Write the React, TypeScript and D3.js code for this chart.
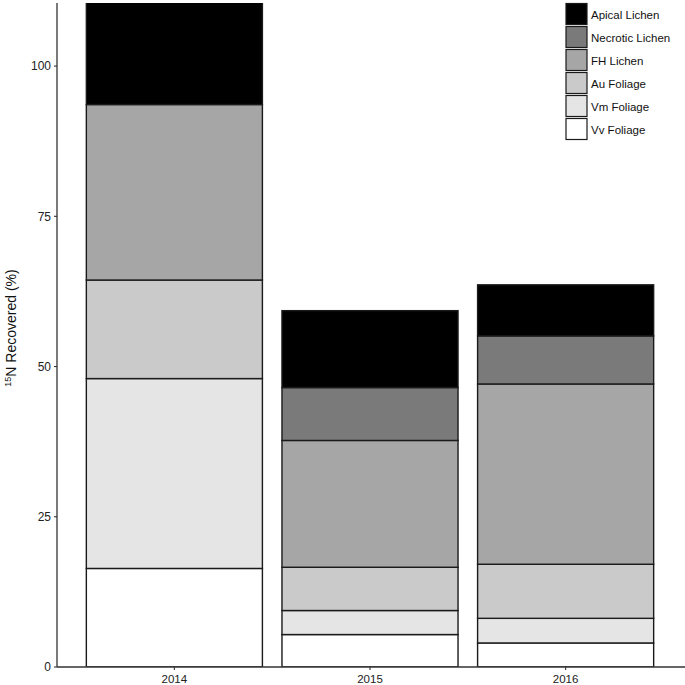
import React from "react";
import * as d3 from "d3";

const years = ["2014", "2015", "2016"];
const components = ["Vv Foliage", "Vm Foliage", "Au Foliage", "FH Lichen", "Necrotic Lichen", "Apical Lichen"];
const vvFoliage = [16.4, 5.4, 4.0];
const vmFoliage = [31.6, 4.0, 4.1];
const auFoliage = [16.4, 7.2, 9.0];
const fhLichen = [29.2, 21.1, 30.0];
const necroticLichen = [0, 8.8, 8.0];
const apicalLichen = [18.4, 12.8, 8.5];
const yTicks = [0, 25, 50, 75, 100];
const fills = ["#ffffff", "#e5e5e5", "#cacaca", "#a6a6a6", "#7a7a7a", "#000000"];

const W = 685, H = 685;
const left = 57, right = 683, top = 3, bottom = 667;

export default function App() {
  const seriesValues = [vvFoliage, vmFoliage, auFoliage, fhLichen, necroticLichen, apicalLichen];
  const rows = years.map((y, i) => {
    const r: any = { year: y };
    components.forEach((c, k) => (r[c] = seriesValues[k][i]));
    return r;
  });
  const stacked = d3.stack().keys(components)(rows);
  const x = d3.scaleBand().domain(years).range([left, right]).paddingInner(0.1).paddingOuter(0.15);
  const y = d3.scaleLinear().domain([0, 110.5]).range([bottom, top]);
  const font = "'Liberation Sans', Arial, sans-serif";
  const legendOrder = [...components].reverse();

  return (
    <svg width={W} height={H} style={{ position: "absolute", left: 0, top: 0, background: "#fff" }} fontFamily={font}>
      <defs>
        <clipPath id="plotclip">
          <rect x={left} y={top} width={right - left + 2} height={bottom - top} />
        </clipPath>
      </defs>
      <g clipPath="url(#plotclip)">
        {stacked.map((s, k) =>
          s.map((d, i) => {
            if (d[1] - d[0] <= 0) return null;
            return (
              <rect
                key={`${k}-${i}`}
                x={x(years[i])!}
                width={x.bandwidth()}
                y={y(d[1])}
                height={y(d[0]) - y(d[1])}
                fill={fills[k]}
                stroke="#1a1a1a"
                strokeWidth={1.4}
              />
            );
          })
        )}
      </g>
      {/* axes */}
      <line x1={left} x2={left} y1={top} y2={bottom} stroke="#333" strokeWidth={1.3} />
      <line x1={left} x2={W} y1={bottom} y2={bottom} stroke="#333" strokeWidth={1.3} />
      {yTicks.map((t) => (
        <g key={t}>
          <line x1={left - 3} x2={left} y1={y(t)} y2={y(t)} stroke="#333" strokeWidth={1.1} />
          <text x={left - 6} y={y(t)} dy="0.35em" textAnchor="end" fontSize={12} fill="#222">
            {t}
          </text>
        </g>
      ))}
      {years.map((yr) => {
        const cx = x(yr)! + x.bandwidth() / 2;
        return (
          <g key={yr}>
            <line x1={cx} x2={cx} y1={bottom} y2={bottom + 3} stroke="#333" strokeWidth={1.1} />
            <text x={cx} y={bottom + 16} textAnchor="middle" fontSize={11.5} fill="#222">
              {yr}
            </text>
          </g>
        );
      })}
      <text
        transform={`translate(16,328) rotate(-90)`}
        textAnchor="middle"
        fontSize={14}
        fill="#111"
      >
        <tspan fontSize={9} dy="-5">15</tspan>
        <tspan dy="5">N Recovered (%)</tspan>
      </text>
      {/* legend */}
      {legendOrder.map((c, i) => {
        const k = components.indexOf(c);
        const ky = 3.5 + i * 23;
        return (
          <g key={c}>
            <rect x={566} y={ky} width={21} height={21} fill={fills[k]} stroke="#1a1a1a" strokeWidth={1.2} />
            <text x={591} y={ky + 11} dy="0.35em" fontSize={11.5} fill="#111">
              {c}
            </text>
          </g>
        );
      })}
    </svg>
  );
}
